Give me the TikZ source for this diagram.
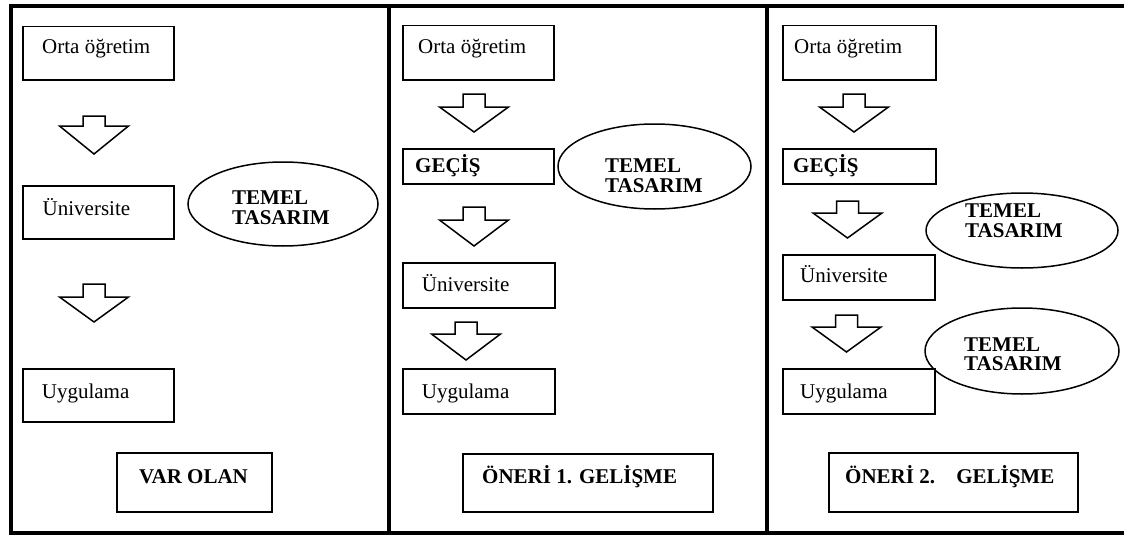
\documentclass[tikz,border=0pt]{standalone}
\usepackage{fontspec}
\setmainfont{Liberation Serif}
\usetikzlibrary{shapes.geometric}
\newcommand\blockarr[4]{%
  \draw[blockarrow] ({#1-11},#2) -- ({#1+11},#2) -- ({#1+11},#3) -- ({#1+34.5},#3)
    -- (#1,#4) -- ({#1-34.5},#3) -- ({#1-11},#3) -- cycle;}
\begin{document}
\begin{tikzpicture}[x=1pt,y=-1pt,
  frame/.style={line width=4pt},
  box/.style={draw, line width=1.5pt, rectangle, inner sep=0, anchor=north west},
  oval/.style={draw, line width=1.5pt, ellipse, inner sep=0},
  lbl/.style={inner sep=0, anchor=base west, font=\fontsize{21}{21}\selectfont},
  blbl/.style={inner sep=0, anchor=base west, font=\fontsize{21}{21}\selectfont\bfseries},
  blockarrow/.style={draw, line width=1.5pt, line join=miter}]
\useasboundingbox (0,0) rectangle (1124,535);
% frame
\draw[frame] (1124,6) -- (11,6) -- (11,533) -- (1124,533);
\draw[frame] (389,6) -- (389,533);
\draw[frame] (766.5,6) -- (766.5,533);

% ---------- panel 1 ----------
\node[box, minimum width=151, minimum height=53] (a1) at (22,26) {};
\node[box, minimum width=151, minimum height=53] (a2) at (22,185) {};
\node[box, minimum width=151, minimum height=53] (a3) at (22,368) {};
\node[box, minimum width=155, minimum height=59] (a4) at (116,452) {};
\node[oval, minimum width=190, minimum height=84] (ae) at (283,204) {};
\node[lbl] (a1t) at (42,54) {Orta öğretim};
\node[lbl] (a2t) at (42.5,215) {Üniversite};
\node[lbl] (a3t) at (41.7,398) {Uygulama};
\node[blbl, anchor=base] (a4t) at (193.5,483) {VAR OLAN};
\node[blbl] (aet1) at (232,204) {TEMEL};
\node[blbl] (aet2) at (232,224) {TASARIM};
\blockarr{94}{116}{126}{154}
\blockarr{94}{284}{297}{322}

% ---------- panel 2 ----------
\node[box, minimum width=151, minimum height=54] (b1) at (402,25) {};
\node[box, minimum width=151, minimum height=35] (b2) at (402,148) {};
\node[box, minimum width=152, minimum height=45] (b3) at (402,262) {};
\node[box, minimum width=152, minimum height=45] (b4) at (402,368) {};
\node[box, minimum width=250, minimum height=58] (b5) at (462,453) {};
\node[oval, minimum width=193, minimum height=85] (be) at (654.5,166.5) {};
\node[lbl] (b1t) at (418,53.5) {Orta öğretim};
\node[blbl] (b2t) at (415,172.7) {GEÇİŞ};
\node[lbl] (b3t) at (421.7,291) {Üniversite};
\node[lbl] (b4t) at (421.7,398) {Uygulama};
\node[blbl] (b5t) at (482,483) {ÖNERİ 1. GELİŞME};
\node[blbl] (bet1) at (605,172) {TEMEL};
\node[blbl] (bet2) at (605,192) {TASARIM};
\blockarr{474}{94}{107}{132}
\blockarr{474}{207}{220}{246}
\blockarr{466}{322}{334}{360}

% ---------- panel 3 ----------
\node[box, minimum width=153, minimum height=54] (c1) at (782,25) {};
\node[box, minimum width=153, minimum height=35] (c2) at (782,148) {};
\node[box, minimum width=152, minimum height=45] (c3) at (782,254) {};
\node[box, minimum width=152, minimum height=45] (c4) at (782,368) {};
\node[box, minimum width=249, minimum height=59] (c5) at (828,452) {};
\node[oval, minimum width=192, minimum height=75] (ce1) at (1022,230.5) {};
\node[oval, minimum width=194, minimum height=86] (ce2) at (1022,351) {};
\node[lbl] (c1t) at (794,53.5) {Orta öğretim};
\node[blbl] (c2t) at (793,172.7) {GEÇİŞ};
\node[lbl] (c3t) at (800,282) {Üniversite};
\node[lbl] (c4t) at (800,398) {Uygulama};
\node[blbl] (c5t) at (845,483) {ÖNERİ 2.\hspace*{16pt} GELİŞME};
\node[blbl] (ce1t1) at (965,217) {TEMEL};
\node[blbl] (ce1t2) at (965,237) {TASARIM};
\node[blbl] (ce2t1) at (964,351) {TEMEL};
\node[blbl] (ce2t2) at (964,370) {TASARIM};
\blockarr{854}{94}{107}{132}
\blockarr{847.5}{201}{213}{238}
\blockarr{846.5}{315}{327}{352}
\end{tikzpicture}
\end{document}
